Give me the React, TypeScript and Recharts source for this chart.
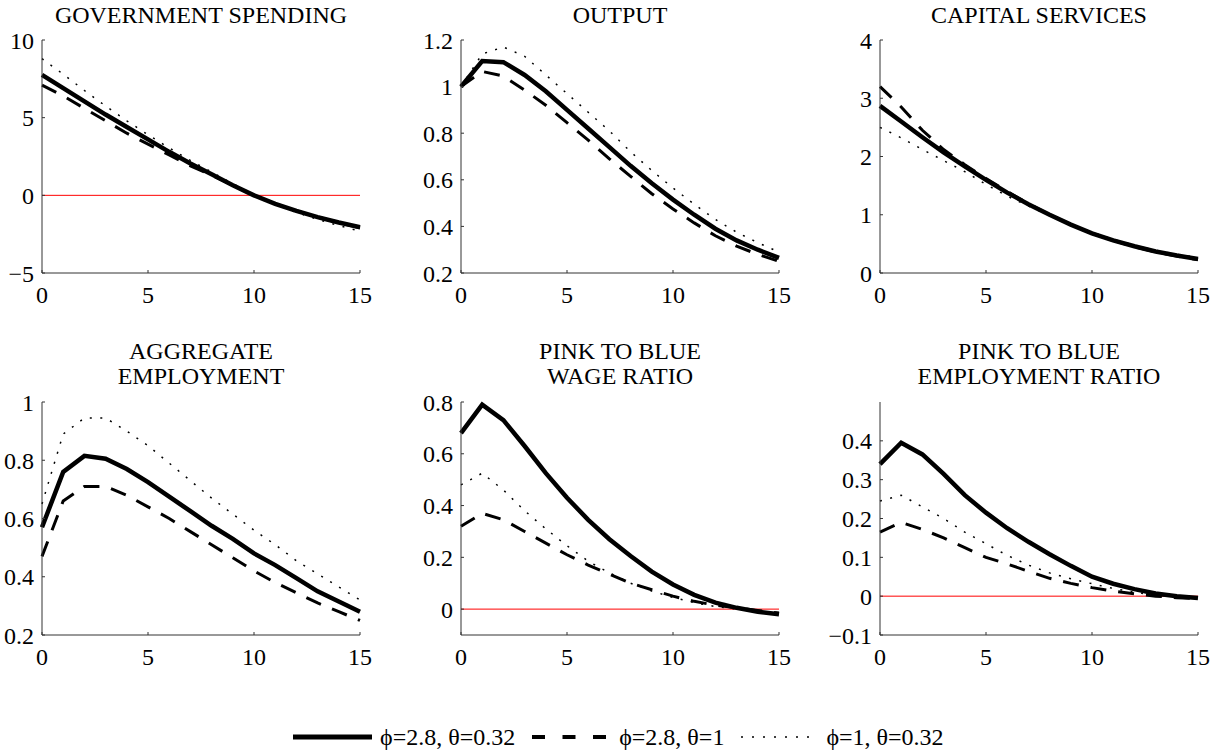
import React from "react";
import { LineChart, Line, XAxis, YAxis, ReferenceLine } from "recharts";

// quarters after the shock
const periods = [0, 1, 2, 3, 4, 5, 6, 7, 8, 9, 10, 11, 12, 13, 14, 15];
const xTicks = [0, 5, 10, 15];

// series: solid = phi 2.8 / theta 0.32, dashed = phi 2.8 / theta 1, dotted = phi 1 / theta 0.32
const govSolid = [7.75, 6.9, 6.05, 5.2, 4.4, 3.6, 2.8, 2.05, 1.35, 0.65, 0.0, -0.55, -1.0, -1.4, -1.75, -2.05];
const govDashed = [7.1, 6.4, 5.6, 4.8, 4.0, 3.3, 2.6, 1.9, 1.3, 0.65, 0.0, -0.55, -1.0, -1.4, -1.75, -2.1];
const govDotted = [8.8, 7.8, 6.75, 5.75, 4.8, 3.9, 3.05, 2.25, 1.5, 0.75, 0.05, -0.55, -1.1, -1.55, -1.95, -2.3];

const outSolid = [1.0, 1.11, 1.105, 1.05, 0.98, 0.9, 0.82, 0.74, 0.66, 0.585, 0.515, 0.45, 0.39, 0.34, 0.3, 0.265];
const outDashed = [1.0, 1.065, 1.045, 0.985, 0.92, 0.845, 0.77, 0.69, 0.615, 0.54, 0.475, 0.415, 0.36, 0.315, 0.28, 0.25];
const outDotted = [1.0, 1.14, 1.17, 1.13, 1.05, 0.97, 0.89, 0.81, 0.72, 0.64, 0.565, 0.495, 0.43, 0.375, 0.33, 0.29];

const capSolid = [2.87, 2.6, 2.33, 2.07, 1.83, 1.6, 1.38, 1.18, 1.0, 0.83, 0.68, 0.56, 0.46, 0.37, 0.3, 0.24];
const capDashed = [3.2, 2.85, 2.45, 2.12, 1.86, 1.62, 1.4, 1.19, 1.0, 0.83, 0.68, 0.56, 0.45, 0.36, 0.29, 0.23];
const capDotted = [2.5, 2.32, 2.12, 1.93, 1.74, 1.52, 1.32, 1.15, 0.99, 0.84, 0.7, 0.58, 0.48, 0.39, 0.32, 0.27];

const empSolid = [0.57, 0.76, 0.815, 0.805, 0.77, 0.725, 0.675, 0.625, 0.575, 0.53, 0.48, 0.44, 0.395, 0.35, 0.315, 0.28];
const empDashed = [0.47, 0.66, 0.71, 0.71, 0.68, 0.64, 0.6, 0.555, 0.51, 0.465, 0.42, 0.38, 0.345, 0.31, 0.28, 0.25];
const empDotted = [0.65, 0.89, 0.945, 0.945, 0.9, 0.85, 0.79, 0.73, 0.67, 0.615, 0.56, 0.51, 0.455, 0.41, 0.365, 0.32];

const wageSolid = [0.68, 0.79, 0.73, 0.63, 0.525, 0.43, 0.345, 0.27, 0.205, 0.145, 0.095, 0.055, 0.025, 0.005, -0.01, -0.02];
const wageDashed = [0.32, 0.37, 0.345, 0.3, 0.255, 0.21, 0.17, 0.135, 0.1, 0.075, 0.05, 0.03, 0.015, 0.005, -0.005, -0.015];
const wageDotted = [0.48, 0.525, 0.46, 0.38, 0.31, 0.245, 0.185, 0.14, 0.1, 0.07, 0.045, 0.025, 0.01, 0.0, -0.01, -0.015];

const ratioSolid = [0.34, 0.395, 0.365, 0.315, 0.26, 0.215, 0.175, 0.14, 0.108, 0.078, 0.05, 0.032, 0.018, 0.007, 0.0, -0.005];
const ratioDashed = [0.165, 0.19, 0.172, 0.15, 0.125, 0.1, 0.083, 0.064, 0.046, 0.033, 0.022, 0.013, 0.006, 0.0, -0.004, -0.006];
const ratioDotted = [0.245, 0.26, 0.23, 0.2, 0.165, 0.135, 0.105, 0.08, 0.06, 0.045, 0.032, 0.02, 0.01, 0.003, -0.002, -0.006];

const legendLabels = ["\u03d5=2.8, \u03b8=0.32", "\u03d5=2.8, \u03b8=1", "\u03d5=1, \u03b8=0.32"];

const FONT = '"Liberation Serif", "Times New Roman", serif';
const AXIS = "#333";
const PLOT_W = 318;
const PLOT_H = 233;

const toRows = (a: number[], b: number[], c: number[]) =>
  periods.map((t, i) => ({ t, solid: a[i], dashed: b[i], dotted: c[i] }));

const panels = [
  { title: ["GOVERNMENT SPENDING"], rows: toRows(govSolid, govDashed, govDotted), domain: [-5, 10], ticks: [-5, 0, 5, 10], zero: true, left: 42, top: 40 },
  { title: ["OUTPUT"], rows: toRows(outSolid, outDashed, outDotted), domain: [0.2, 1.2], ticks: [0.2, 0.4, 0.6, 0.8, 1, 1.2], zero: false, left: 461, top: 40 },
  { title: ["CAPITAL SERVICES"], rows: toRows(capSolid, capDashed, capDotted), domain: [0, 4], ticks: [0, 1, 2, 3, 4], zero: false, left: 880, top: 40 },
  { title: ["AGGREGATE", "EMPLOYMENT"], rows: toRows(empSolid, empDashed, empDotted), domain: [0.2, 1], ticks: [0.2, 0.4, 0.6, 0.8, 1], zero: false, left: 42, top: 402 },
  { title: ["PINK TO BLUE", "WAGE RATIO"], rows: toRows(wageSolid, wageDashed, wageDotted), domain: [-0.1, 0.8], ticks: [0, 0.2, 0.4, 0.6, 0.8], zero: true, left: 461, top: 402 },
  { title: ["PINK TO BLUE", "EMPLOYMENT RATIO"], rows: toRows(ratioSolid, ratioDashed, ratioDotted), domain: [-0.1, 0.5], ticks: [-0.1, 0, 0.1, 0.2, 0.3, 0.4], zero: true, left: 880, top: 402 },
];

const fmt = (v: number) => String(v).replace("-", "\u2212");

function Panel({ p }: { p: (typeof panels)[number] }) {
  const titleTop = p.title.length === 1 ? p.top - 37 : p.top - 63;
  return (
    <>
      <div
        style={{
          position: "absolute",
          left: p.left - 40,
          width: PLOT_W + 80,
          top: titleTop,
          textAlign: "center",
          fontFamily: FONT,
          fontSize: 24,
          lineHeight: "25px",
          color: "#000",
        }}
      >
        {p.title.map((line) => (
          <div key={line}>{line}</div>
        ))}
      </div>
      <div style={{ position: "absolute", left: p.left - 60, top: p.top - 20 }}>
        <LineChart
          width={PLOT_W + 80}
          height={PLOT_H + 60}
          data={p.rows}
          margin={{ top: 20, right: 20, left: 0, bottom: 0 }}
        >
          <XAxis
            dataKey="t"
            type="number"
            domain={[0, 15]}
            ticks={xTicks}
            interval={0}
            height={40}
            stroke={AXIS}
            tickSize={-3}
            tickMargin={16}
            tick={{ fill: "#000", fontSize: 24, fontFamily: FONT }}
          />
          <YAxis
            type="number"
            domain={p.domain}
            ticks={p.ticks}
            interval={0}
            width={60}
            stroke={AXIS}
            tickSize={-3}
            tickMargin={11}
            tickFormatter={fmt}
            tick={{ fill: "#000", fontSize: 24, fontFamily: FONT }}
          />
          {p.zero && <ReferenceLine y={0} stroke="#ff0000" strokeWidth={1} />}
          <Line type="linear" dataKey="solid" stroke="#000" strokeWidth={4.5} dot={false} isAnimationActive={false} />
          <Line type="linear" dataKey="dashed" stroke="#000" strokeWidth={3} strokeDasharray="16 12" dot={false} isAnimationActive={false} />
          <Line type="linear" dataKey="dotted" stroke="#000" strokeWidth={1.5} strokeDasharray="2 8.5" dot={false} isAnimationActive={false} />
        </LineChart>
      </div>
    </>
  );
}

function LegendRow() {
  const sample = (w: number, width: number, dash?: string) => (
    <svg width={w} height={12} style={{ display: "block" }}>
      <line x1={0} y1={6} x2={w} y2={6} stroke="#000" strokeWidth={width} strokeDasharray={dash} />
    </svg>
  );
  const text = { fontFamily: FONT, fontSize: 24, color: "#000", whiteSpace: "nowrap" as const };
  return (
    <div style={{ position: "absolute", left: 293, top: 722, height: 30, display: "flex", alignItems: "center" }}>
      {sample(79, 5)}
      <span style={{ ...text, marginLeft: 8 }}>{legendLabels[0]}</span>
      <span style={{ marginLeft: 17 }}>{sample(74, 4, "13 17.5")}</span>
      <span style={{ ...text, marginLeft: 13 }}>{legendLabels[1]}</span>
      <span style={{ marginLeft: 17 }}>{sample(69, 1.5, "2 9")}</span>
      <span style={{ ...text, marginLeft: 16 }}>{legendLabels[2]}</span>
    </div>
  );
}

export default function App() {
  return (
    <div style={{ position: "absolute", left: 0, top: 0, width: 1222, height: 756, background: "#fff", overflow: "hidden" }}>
      {panels.map((p, i) => (
        <Panel key={i} p={p} />
      ))}
      <LegendRow />
    </div>
  );
}
